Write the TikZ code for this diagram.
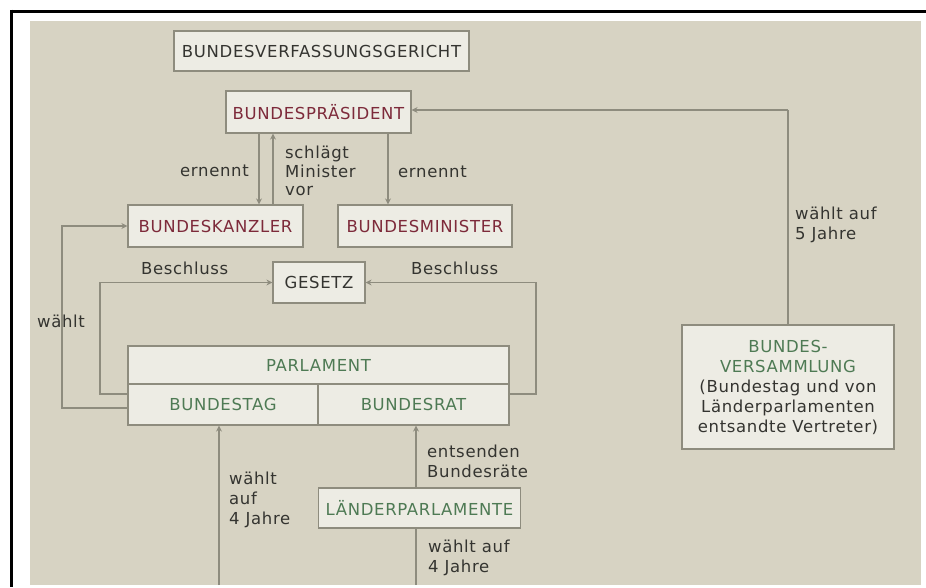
\documentclass[tikz,border=0pt]{standalone}
\usepackage{fontspec}
\setmainfont{DejaVu Sans}[LetterSpace=4]
\usetikzlibrary{arrows.meta}
\definecolor{bg}{HTML}{D7D3C3}
\definecolor{boxfill}{HTML}{EDECE4}
\definecolor{edge}{HTML}{8E8C7E}
\definecolor{txt}{HTML}{343430}
\definecolor{redtxt}{HTML}{7D2A3A}
\definecolor{greentxt}{HTML}{4E7A54}
\tikzset{
  box/.style={draw=edge, fill=boxfill, line width=1.2pt, inner sep=2pt, align=center},
  conn/.style={draw=edge, line width=1.2pt},
  arr/.style={conn, -{Stealth[length=6pt,width=6pt]}},
  lbl/.style={text=txt, align=left, inner sep=0pt},
}
\begin{document}
\begin{tikzpicture}[x=1pt,y=-1pt,font=\fontsize{16.5}{20}\selectfont]
\useasboundingbox (0,0) rectangle (926,587);
\fill[white] (0,0) rectangle (926,587);
\fill[bg] (30,21) rectangle (921,585);
\draw[black, line width=3pt] (10.5,11) -- (926,11);
\draw[black, line width=3pt] (11,9.5) -- (11,587);

% nodes
\node[box, minimum width=295pt, minimum height=40pt, text=txt] (bvg) at (321.5,51) {BUNDESVERFASSUNGSGERICHT};
\node[box, minimum width=185pt, minimum height=42pt, text=redtxt] (bp) at (318.5,112) {BUNDESPRÄSIDENT};
\node[box, minimum width=175pt, minimum height=42pt, text=redtxt] (bk) at (215.5,226) {BUNDESKANZLER};
\node[box, minimum width=174pt, minimum height=42pt, text=redtxt] (bm) at (425,226) {BUNDESMINISTER};
\node[box, minimum width=92pt, minimum height=41pt, text=txt] (ge) at (319,282.5) {GESETZ};
\node[box, minimum width=381pt, minimum height=38pt, text=greentxt] (pa) at (318.5,365) {PARLAMENT};
\node[box, minimum width=190pt, minimum height=41pt, text=greentxt] (bt) at (223,404.5) {BUNDESTAG};
\node[box, minimum width=191pt, minimum height=41pt, text=greentxt] (br) at (413.5,404.5) {BUNDESRAT};
\node[box, minimum width=202pt, minimum height=40pt, text=greentxt] (lp) at (419.5,508) {LÄNDERPARLAMENTE};
\node[box, minimum width=212pt, minimum height=124pt, inner sep=0pt, text=txt] (bv) at (788,387)
  {\textcolor{greentxt}{BUNDES-}\\\textcolor{greentxt}{VERSAMMLUNG}\\(Bundestag und von\\Länderparlamenten\\entsandte Vertreter)};

% helper coordinates
\coordinate (xa) at (259,0);
\coordinate (xb) at (273,0);
\coordinate (xc) at (388,0);
\coordinate (xw) at (62,0);
\coordinate (xl) at (100,0);
\coordinate (xr) at (536,0);
\coordinate (xs) at (416,0);
\coordinate (bot1) at (219,585);
\coordinate (bot2) at (416,585);
\coordinate (top5) at (788,110);

% connectors
\draw[arr] (bp.south -| xa) -- (bk.north -| xa);
\draw[arr] (bk.north -| xb) -- (bp.south -| xb);
\draw[arr] (bp.south -| xc) -- (bm.north -| xc);
\draw[conn] (bv.north) -- (top5);
\draw[arr] (top5) -- (top5 -| bp.east);
\draw[arr] ([yshift=-3.5pt]bt.west) -| (xw |- bk.west) -- (bk.west);
\draw[arr] ([yshift=10.5pt]bt.west) -| (xl |- ge.west) -- (ge.west);
\draw[arr] ([yshift=10.5pt]br.east) -| (xr |- ge.east) -- (ge.east);
\draw[arr] (bot1) -- (bot1 |- bt.south);
\draw[arr] (lp.north -| xs) -- (br.south -| xs);
\draw[conn] (lp.south -| xs) -- (bot2);

% labels
\node[lbl, anchor=east] (l1) at (249,171) {ernennt};
\node[lbl, anchor=west, font=\fontsize{16.5}{18.5}\selectfont] (l2) at (285,171) {schlägt\\Minister\\vor};
\node[lbl, anchor=west] (l3) at (398,172) {ernennt};
\node[lbl, anchor=west] (l4) at (141,268) {Beschluss};
\node[lbl, anchor=west] (l5) at (411,268) {Beschluss};
\node[lbl, anchor=west] (l6) at (37,321) {wählt};
\node[lbl, anchor=west] (l7) at (795,225) {wählt auf\\5 Jahre};
\node[lbl, anchor=west] (l8) at (229,500) {wählt\\auf\\4 Jahre};
\node[lbl, anchor=west] (l9) at (427,461) {entsenden\\Bundesräte};
\node[lbl, anchor=west] (l10) at (428,558) {wählt auf\\4 Jahre};
\end{tikzpicture}
\end{document}
